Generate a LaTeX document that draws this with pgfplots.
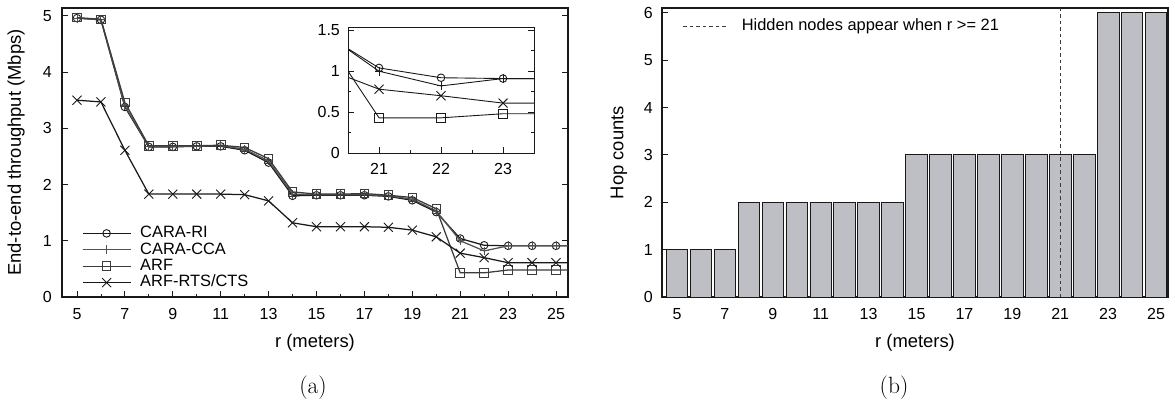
\documentclass[border=0pt]{standalone}
\usepackage{fontspec}
\newfontfamily\lib{Liberation Sans}
\usepackage{pgfplots}
\usepackage{pgfplotstable}
\pgfplotsset{compat=1.18}
\definecolor{barfill}{RGB}{190,191,196}
\definecolor{ink}{RGB}{25,25,25}
\pgfplotstableread{
r RI CCA ARF RTS
5 4.96 4.96 4.97 3.50
6 4.93 4.93 4.94 3.47
7 3.38 3.40 3.46 2.61
8 2.67 2.68 2.69 1.83
9 2.67 2.68 2.69 1.83
10 2.68 2.68 2.69 1.83
11 2.68 2.69 2.70 1.83
12 2.61 2.63 2.66 1.82
13 2.39 2.42 2.46 1.71
14 1.80 1.83 1.87 1.32
15 1.81 1.82 1.83 1.25
16 1.81 1.82 1.83 1.25
17 1.81 1.82 1.84 1.25
18 1.79 1.80 1.81 1.24
19 1.72 1.74 1.77 1.19
20 1.51 1.53 1.57 1.07
21 1.04 1.00 0.43 0.78
22 0.92 0.82 0.43 0.70
23 0.91 0.91 0.48 0.61
24 0.91 0.91 0.48 0.61
25 0.91 0.91 0.48 0.61
26 0.91 0.91 0.48 0.61
}\thr
\pgfplotstableread{
r hops
5 1
6 1
7 1
8 2
9 2
10 2
11 2
12 2
13 2
14 2
15 3
16 3
17 3
18 3
19 3
20 3
21 3
22 3
23 6
24 6
25 6
}\hop
\begin{document}
\lib\fontsize{16.4bp}{19.7bp}\selectfont
\begin{tikzpicture}[x=1bp,y=1bp]
\path[use as bounding box] (0,0) rectangle (1175,-405);
\pgfplotsset{
 common/.style={
   scale only axis, anchor=south west,
   /pgf/number format/assume math mode=true,
   tick align=inside, xtick pos=left,
   major tick length=6bp, minor tick length=3bp,
   tick style={ink, line width=0.8bp},
   axis line style={ink, line width=1.2bp},
   tick label style={font=\lib\fontsize{16bp}{19bp}\selectfont},
   label style={font=\lib\fontsize{18.4bp}{22bp}\selectfont},
   clip marker paths=true,
 },
 ser/.style={ink, line width=1.25bp, mark options={solid, line width=0.9bp}},
}
% ---------- (a) ----------
\begin{axis}[common, at={(62bp,-297bp)}, width=506bp, height=289bp,
  xmin=4.375, xmax=25.5, ymin=0, ymax=5.14,
  xtick={5,7,...,25}, minor xtick={6,8,...,24}, ytick={0,...,5}, ytick pos=both,
  xticklabel style={yshift=-5.5bp}, yticklabel style={xshift=-4.5bp},
  xlabel={r (meters)}, ylabel={End-to-end throughput (Mbps)},
  xlabel style={at={(axis description cs:0.5,-0.159)}, anchor=center, inner sep=0pt},
  ylabel style={at={(axis description cs:-0.0909,0.5)}, anchor=center, inner sep=0pt},
  legend cell align=left,
  legend style={draw=none, fill=none, inner sep=0pt, outer sep=0pt,
    at={(axis description cs:0.0395,0.2464)}, anchor=north west, row sep=1.2bp,
    nodes={inner sep=0pt, text height=11.8bp, text depth=3.4bp},
    /tikz/every odd column/.append style={column sep=9bp}},
  legend image code/.code={\draw[mark repeat=2,mark phase=2,#1] plot coordinates {(0bp,0bp) (24bp,0bp) (48bp,0bp)};},
]
\addplot[ser, mark=o, mark size=3.8bp] table[x=r,y=RI]{\thr};
\addlegendentry{CARA-RI}
\addplot[ser, ink!75, mark=+, mark size=4.4bp] table[x=r,y=CCA]{\thr};
\addlegendentry{CARA-CCA}
\addplot[ser, ink!85, mark=square, mark size=4.3bp] table[x=r,y=ARF]{\thr};
\addlegendentry{ARF}
\addplot[ser, mark=x, mark size=6.4bp] table[x=r,y=RTS]{\thr};
\addlegendentry{ARF-RTS/CTS}
\end{axis}
% ---------- inset ----------
\begin{axis}[common, at={(348bp,-153bp)}, width=186bp, height=126bp,
  xmin=20.5, xmax=23.5, ymin=0, ymax=1.54,
  xtick={21,22,23}, minor xtick={21.5,22.5},
  ytick={0,0.5,1,1.5}, minor ytick={0.25,0.75,1.25}, ytick pos=both,
  xticklabel style={yshift=-4.5bp}, yticklabel style={xshift=-2.5bp},
  axis line style={ink, line width=1bp},
  axis background/.style={fill=white},
]
\addplot[ser, line width=0.9bp, mark=o, mark size=3.8bp] table[x=r,y=RI]{\thr};
\addplot[ser, line width=0.9bp, mark=+, mark size=4.4bp] table[x=r,y=CCA]{\thr};
\addplot[ser, line width=0.9bp, mark=square, mark size=4.3bp] table[x=r,y=ARF]{\thr};
\addplot[ser, line width=0.9bp, mark=x, mark size=6.4bp] table[x=r,y=RTS]{\thr};
\end{axis}
% ---------- (b) ----------
\begin{axis}[common, at={(662bp,-297bp)}, width=506bp, height=289bp,
  xmin=4.375, xmax=25.5, ymin=0, ymax=6.1,
  xtick={5,7,...,25}, ytick={0,...,6}, ytick pos=left,
  xticklabel style={yshift=-5.5bp}, yticklabel style={xshift=-3.5bp},
  xlabel={r (meters)}, ylabel={Hop counts},
  xlabel style={at={(axis description cs:0.5,-0.159)}, anchor=center, inner sep=0pt},
  ylabel style={at={(axis description cs:-0.085,0.5)}, anchor=center, inner sep=0pt},
  legend cell align=left,
  legend style={draw=none, fill=none, inner sep=0pt, outer sep=0pt,
    at={(axis description cs:0.0415,0.9616)}, anchor=north west,
    nodes={inner sep=0pt, text height=11.8bp, text depth=3.4bp},
    /tikz/every odd column/.append style={column sep=13bp}},
  legend image code/.code={\draw[#1] (0bp,0bp) -- (45bp,0bp);},
]
\addplot[ybar, bar width=0.9, fill=barfill, draw=ink, line width=0.8bp, forget plot] table[x=r,y=hops]{\hop};
\addplot[ink!85, line width=0.8bp, dash pattern=on 3.5bp off 3bp] coordinates {(21,0) (21,6.1)};
\addlegendentry{Hidden nodes appear when r >= 21}
\end{axis}
\node[font=\normalfont\fontsize{23.5bp}{28bp}\selectfont] at (313,-388) {(a)};
\node[font=\normalfont\fontsize{23.5bp}{28bp}\selectfont] at (894,-388) {(b)};
\end{tikzpicture}
\end{document}
